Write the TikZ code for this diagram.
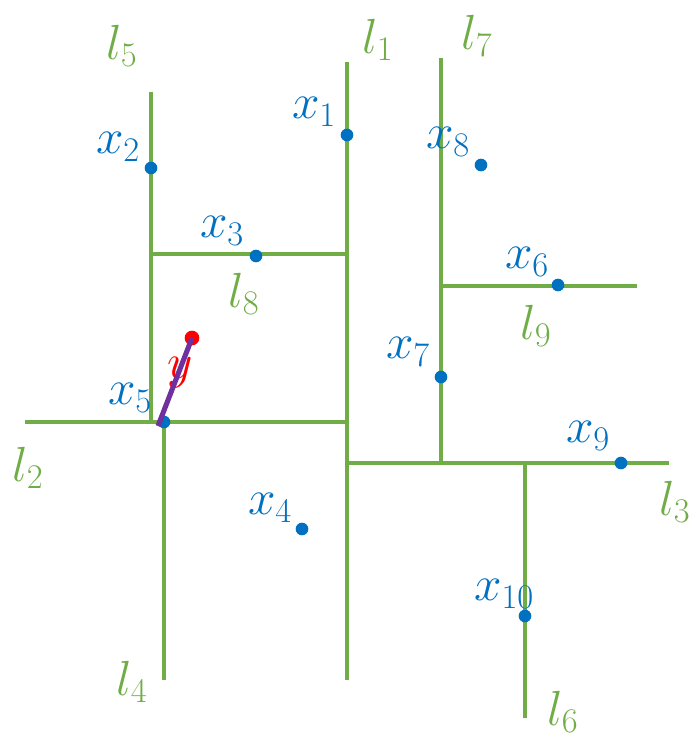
\RequirePackage{fix-cm}
\documentclass[tikz,border=0pt]{standalone}
\definecolor{lgreen}{HTML}{70AD47}
\definecolor{pblue}{HTML}{0070C0}
\definecolor{ppurple}{HTML}{7030A0}
\begin{document}
\begin{tikzpicture}[x=0.75pt,y=-0.75pt,
  seg/.style={draw=lgreen,line width=2.4pt},
  pt/.style={circle,fill=pblue,inner sep=0pt,minimum size=9.5pt},
  ptlab/.style={text=pblue,inner sep=0pt,font=\fontsize{37}{42}\selectfont},
  lnlab/.style={text=lgreen,inner sep=0pt,font=\fontsize{37}{42}\selectfont}]
\useasboundingbox (0,0) rectangle (696,738);
% line end points
\coordinate (l1a) at (347,62);   \coordinate (l1b) at (347,680);
\coordinate (l5a) at (151,92);   \coordinate (l5b) at (151,422);
\coordinate (l4a) at (164,422);  \coordinate (l4b) at (164,680);
\coordinate (l2a) at (25,422);   \coordinate (l2b) at (347,422);
\coordinate (l8a) at (151,254);  \coordinate (l8b) at (347,254);
\coordinate (l7a) at (441,58);   \coordinate (l7b) at (441,463);
\coordinate (l9a) at (441,286);  \coordinate (l9b) at (637,286);
\coordinate (l3a) at (347,463);  \coordinate (l3b) at (669,463);
\coordinate (l6a) at (525,463);  \coordinate (l6b) at (525,718);
\draw[seg] (l1a) -- (l1b);
\draw[seg] (l5a) -- (l5b);
\draw[seg] (l4a) -- (l4b);
\draw[seg] (l2a) -- (l2b);
\draw[seg] (l8a) -- (l8b);
\draw[seg] (l7a) -- (l7b);
\draw[seg] (l9a) -- (l9b);
\draw[seg] (l3a) -- (l3b);
\draw[seg] (l6a) -- (l6b);
% points
\node[pt] (x1) at (347,135) {};
\node[pt] (x2) at (151,168) {};
\node[pt] (x3) at (256,256) {};
\node[pt] (x4) at (302,529) {};
\node[pt] (x5) at (164,422) {};
\node[pt] (x6) at (558,285) {};
\node[pt] (x7) at (441,377) {};
\node[pt] (x8) at (481,165) {};
\node[pt] (x9) at (621,463) {};
\node[pt] (x10) at (525,616) {};
% labels
\node[ptlab] (lx1) at (314,112) {$x_1$};
\node[ptlab] (lx2) at (118,147) {$x_2$};
\node[ptlab] (lx3) at (222,231) {$x_3$};
\node[ptlab] (lx4) at (270,508) {$x_4$};
\node[ptlab] (lx5) at (130,398) {$x_5$};
\node[ptlab] (lx6) at (527,262) {$x_6$};
\node[ptlab] (lx7) at (408,352) {$x_7$};
\node[ptlab] (lx8) at (448,142) {$x_8$};
\node[ptlab] (lx9) at (588,436) {$x_9$};
\node[ptlab] (lx10) at (504,594) {$x_{10}$};
\node[ptlab,text=red] (ly) at (180,373) {$y$};
\node[lnlab] (ll1) at (378,40) {$l_1$};
\node[lnlab] (ll2) at (28,468) {$l_2$};
\node[lnlab] (ll3) at (675,502) {$l_3$};
\node[lnlab] (ll4) at (132,682) {$l_4$};
\node[lnlab] (ll5) at (122,46) {$l_5$};
\node[lnlab] (ll6) at (563,712) {$l_6$};
\node[lnlab] (ll7) at (477,36) {$l_7$};
\node[lnlab] (ll8) at (244,294) {$l_8$};
\node[lnlab] (ll9) at (536,326) {$l_9$};
% query point and its segment
\node[circle,fill=red,inner sep=0pt,minimum size=11pt] (yp) at (192,338) {};
\coordinate (ys) at (158,426);
\draw[ppurple,line width=3.8pt] (ys) -- (yp.center);
\end{tikzpicture}
\end{document}
